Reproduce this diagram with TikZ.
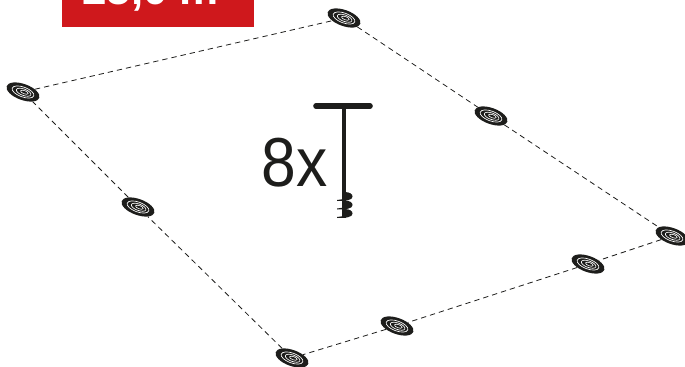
\documentclass[tikz,border=0pt]{standalone}
\usepackage{fontspec}
\setmainfont{Liberation Sans}
\newfontfamily\countfont[FakeStretch=0.9]{Liberation Sans}
\usetikzlibrary{shapes.geometric}
\definecolor{labelred}{HTML}{CF181C}
\definecolor{inkblack}{HTML}{1D1D1B}

\tikzset{
    anchorpoint/.style={ellipse, fill=inkblack, inner sep=0pt, minimum width=26pt, minimum height=12pt, rotate=-20,
        path picture={
            \draw[white, line width=0.5pt] (0,0) ellipse (8.6pt and 3.7pt);
            \draw[white, line width=0.5pt] (0.5pt,0pt) ellipse (5.8pt and 2.4pt);
            \draw[white, line width=0.45pt] (1pt,0.2pt) ellipse (3pt and 1.2pt);
        }},
    guyline/.style={inkblack, dash pattern=on 4pt off 3pt, line width=0.6pt}
}

\begin{document}
\begin{tikzpicture}[x=0.75pt, y=-0.75pt]
    \useasboundingbox (0,0) rectangle (685,367);

    % --- 1. Label ---
    \begin{scope}
        \clip (0,0) rectangle (685,367);
        \fill[labelred] (62,-10) rectangle (254,27);
        \node[white, font=\bfseries\fontsize{33}{33}\selectfont, anchor=base] (area) at (158,5) {25,0 m²};
    \end{scope}

    % --- 2. Anchor points ---
    \node[anchorpoint] (p1) at (23,92) {};
    \node[anchorpoint] (p2) at (344,18) {};
    \node[anchorpoint] (p3) at (491,116) {};
    \node[anchorpoint] (p4) at (672,236) {};
    \node[anchorpoint] (p5) at (588,264) {};
    \node[anchorpoint] (p6) at (397,326) {};
    \node[anchorpoint] (p7) at (292,358) {};
    \node[anchorpoint] (p8) at (138,207) {};

    % --- 3. Guy lines ---
    \foreach \a/\b in {p1/p2,p2/p3,p3/p4,p4/p5,p5/p6,p6/p7,p7/p8,p8/p1}
        \draw[guyline] (\a) -- (\b);

    % --- 4. Ground screw ---
    \node[inkblack, font=\countfont\fontsize{52}{52}\selectfont, anchor=base east, inner sep=0pt] (count) at (328,186) {8x};
    \coordinate (barL) at (316,106);
    \coordinate (barR) at (370,106);
    \coordinate (tip) at (343.5,218);
    \draw[inkblack, line width=4.2pt, line cap=round] (barL) -- (barR);
    \draw[inkblack, line width=3pt] (343.5,106) -- (tip);
    \foreach \y in {192,200.5,209}
        \fill[inkblack] (344,\y) .. controls (350,\y) and (352.5,\y+2) .. (352.5,\y+4.5) .. controls (352.5,\y+8) and (347,\y+9) .. (337,\y+9) -- (337,\y+8) -- (344,\y+7) -- cycle;
\end{tikzpicture}
\end{document}
